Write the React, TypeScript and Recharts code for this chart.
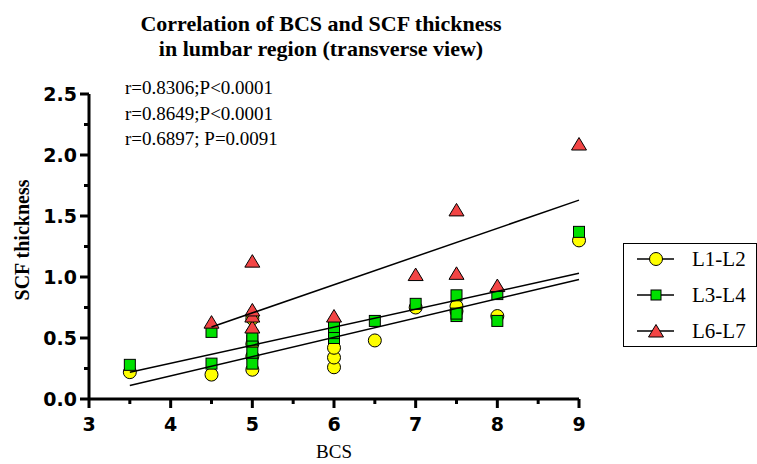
import React from 'react';
import { ScatterChart, Scatter, XAxis, YAxis, Legend } from 'recharts';

// BCS vs SCF thickness
const l1l2 = [
  [3.5, 0.22], [4.5, 0.2], [5, 0.24], [5, 0.35], [5, 0.45], [5, 0.66],
  [6, 0.26], [6, 0.34], [6, 0.42], [6.5, 0.48], [7, 0.75], [7.5, 0.72],
  [7.5, 0.76], [8, 0.68], [9, 1.3],
];
const l3l4 = [
  [3.5, 0.28], [4.5, 0.29], [4.5, 0.55], [5, 0.29], [5, 0.38], [5, 0.48],
  [5, 0.52], [6, 0.5], [6, 0.54], [6, 0.59], [6.5, 0.64], [7, 0.78],
  [7.5, 0.68], [7.5, 0.7], [7.5, 0.85], [8, 0.64], [8, 0.86], [9, 1.37],
];
const l6l7 = [
  [4.5, 0.63], [5, 0.59], [5, 0.68], [5, 0.73], [5, 1.13], [6, 0.68],
  [7, 1.02], [7.5, 1.03], [7.5, 1.55], [8, 0.93], [9, 2.09],
];

// regression line end points
const fitL1L2 = [[3.5, 0.11], [9, 0.98]];
const fitL3L4 = [[3.5, 0.22], [9, 1.03]];
const fitL6L7 = [[4.5, 0.59], [9, 1.63]];

const xTicks = [3, 3.5, 4, 4.5, 5, 5.5, 6, 6.5, 7, 7.5, 8, 8.5, 9];
const yTicks = [0, 0.25, 0.5, 0.75, 1, 1.25, 1.5, 1.75, 2, 2.25, 2.5];
const seriesNames = ['L1-L2', 'L3-L4', 'L6-L7'];
const stats = ['r=0.8306;P<0.0001', 'r=0.8649;P<0.0001', 'r=0.6897; P=0.0091'];

const toPts = (arr: number[][]) => arr.map(([x, y]) => ({ x, y }));

const YELLOW = '#FFFF00';
const GREEN = '#00E000';
const RED = '#F24545';
const SERIF = '"Liberation Serif", "Times New Roman", serif';
const SANS = '"DejaVu Sans", sans-serif';

const CircleMark = (props: any) => (
  <circle cx={props.cx} cy={props.cy} r={6.5} fill={YELLOW} stroke="#000" strokeWidth={1} />
);
const SquareMark = (props: any) => (
  <rect x={props.cx - 5.5} y={props.cy - 5.5} width={11} height={11} fill={GREEN} stroke="#000" strokeWidth={1} />
);
const TriangleMark = (props: any) => {
  const { cx, cy } = props;
  return (
    <polygon
      points={`${cx},${cy - 6.5} ${cx + 7.5},${cy + 6} ${cx - 7.5},${cy + 6}`}
      fill={RED}
      stroke="#000"
      strokeWidth={1}
    />
  );
};
const NoMark = () => <g />;

const XTick = (props: any) => {
  const { x, y, payload } = props;
  const major = Number.isInteger(payload.value);
  return (
    <g>
      <line x1={x} x2={x} y1={y} y2={y + (major ? 9 : 5)} stroke="#000" strokeWidth={3} />
      {major && (
        <text x={x} y={y + 32} textAnchor="middle" fontFamily={SANS} fontWeight="bold" fontSize={19} fill="#000">
          {payload.value}
        </text>
      )}
    </g>
  );
};

const YTick = (props: any) => {
  const { x, y, payload } = props;
  const major = Math.abs(payload.value * 2 - Math.round(payload.value * 2)) < 1e-9;
  return (
    <g>
      <line x1={x} x2={x - (major ? 9 : 5)} y1={y} y2={y} stroke="#000" strokeWidth={3} />
      {major && (
        <text x={x - 12} y={y + 7} textAnchor="end" fontFamily={SANS} fontWeight="bold" fontSize={19} fill="#000">
          {payload.value.toFixed(1)}
        </text>
      )}
    </g>
  );
};

const markers = [
  <circle cx={32} cy={12} r={6.5} fill={YELLOW} stroke="#000" />,
  <rect x={27} y={7} width={10} height={10} fill={GREEN} stroke="#000" />,
  <polygon points="32,5.5 39.5,18 24.5,18" fill={RED} stroke="#000" />,
];

const renderLegend = () => (
  <div
    style={{
      width: 134,
      height: 104,
      border: '1.5px solid #000',
      boxSizing: 'border-box',
      position: 'relative',
      fontFamily: SERIF,
      fontSize: 21,
      background: '#fff',
    }}
  >
    {seriesNames.map((name, i) => (
      <div
        key={name}
        style={{ position: 'absolute', left: 0, top: 3 + i * 36, height: 24, display: 'flex', alignItems: 'center' }}
      >
        <svg width={68} height={24}>
          <line x1={13} x2={50} y1={12} y2={12} stroke="#000" strokeWidth={1.5} />
          {markers[i]}
        </svg>
        <span style={{ lineHeight: '24px' }}>{name}</span>
      </div>
    ))}
  </div>
);

export default function App() {
  return (
    <div style={{ position: 'absolute', left: 0, top: 0, width: 757, height: 464, background: '#fff' }}>
      <ScatterChart width={757} height={464} margin={{ top: 94, right: 178, left: 0, bottom: 0 }}>
        <XAxis
          type="number"
          dataKey="x"
          domain={[3, 9]}
          ticks={xTicks}
          interval={0}
          height={65}
          tickSize={0}
          tickMargin={0}
          tickLine={false}
          tick={<XTick />}
          axisLine={{ stroke: '#000', strokeWidth: 3 }}
        />
        <YAxis
          type="number"
          dataKey="y"
          domain={[0, 2.5]}
          ticks={yTicks}
          interval={0}
          width={89}
          tickSize={0}
          tickMargin={0}
          tickLine={false}
          tick={<YTick />}
          axisLine={{ stroke: '#000', strokeWidth: 3 }}
        />
        <Scatter name="L1-L2" data={toPts(l1l2)} shape={<CircleMark />} isAnimationActive={false} />
        <Scatter name="L3-L4" data={toPts(l3l4)} shape={<SquareMark />} isAnimationActive={false} />
        <Scatter name="L6-L7" data={toPts(l6l7)} shape={<TriangleMark />} isAnimationActive={false} />
        <Scatter data={toPts(fitL1L2)} line={{ stroke: '#000', strokeWidth: 1.5 }} shape={<NoMark />} legendType="none" isAnimationActive={false} />
        <Scatter data={toPts(fitL3L4)} line={{ stroke: '#000', strokeWidth: 1.5 }} shape={<NoMark />} legendType="none" isAnimationActive={false} />
        <Scatter data={toPts(fitL6L7)} line={{ stroke: '#000', strokeWidth: 1.5 }} shape={<NoMark />} legendType="none" isAnimationActive={false} />
        <Legend
          layout="horizontal"
          align="center"
          verticalAlign="middle"
          content={renderLegend}
          wrapperStyle={{ position: 'absolute', left: 623, top: 243, width: 134, height: 104 }}
        />
      </ScatterChart>
      <svg
        width={757}
        height={464}
        style={{ position: 'absolute', left: 0, top: 0, pointerEvents: 'none' }}
      >
        <text x={321} y={31} textAnchor="middle" fontFamily={SERIF} fontWeight="bold" fontSize={22}>
          Correlation of BCS and SCF thickness
        </text>
        <text x={321} y={56} textAnchor="middle" fontFamily={SERIF} fontWeight="bold" fontSize={22}>
          in lumbar region (transverse view)
        </text>
        {stats.map((s, i) => (
          <text key={s} x={125} y={94 + i * 25.5} fontFamily={SERIF} fontSize={19}>
            {s}
          </text>
        ))}
        <text
          transform="translate(29 240) rotate(-90)"
          textAnchor="middle"
          fontFamily={SERIF}
          fontWeight="bold"
          fontSize={20}
        >
          SCF thickness
        </text>
        <text x={334} y={458} textAnchor="middle" fontFamily={SERIF} fontSize={19}>
          BCS
        </text>
      </svg>
    </div>
  );
}
